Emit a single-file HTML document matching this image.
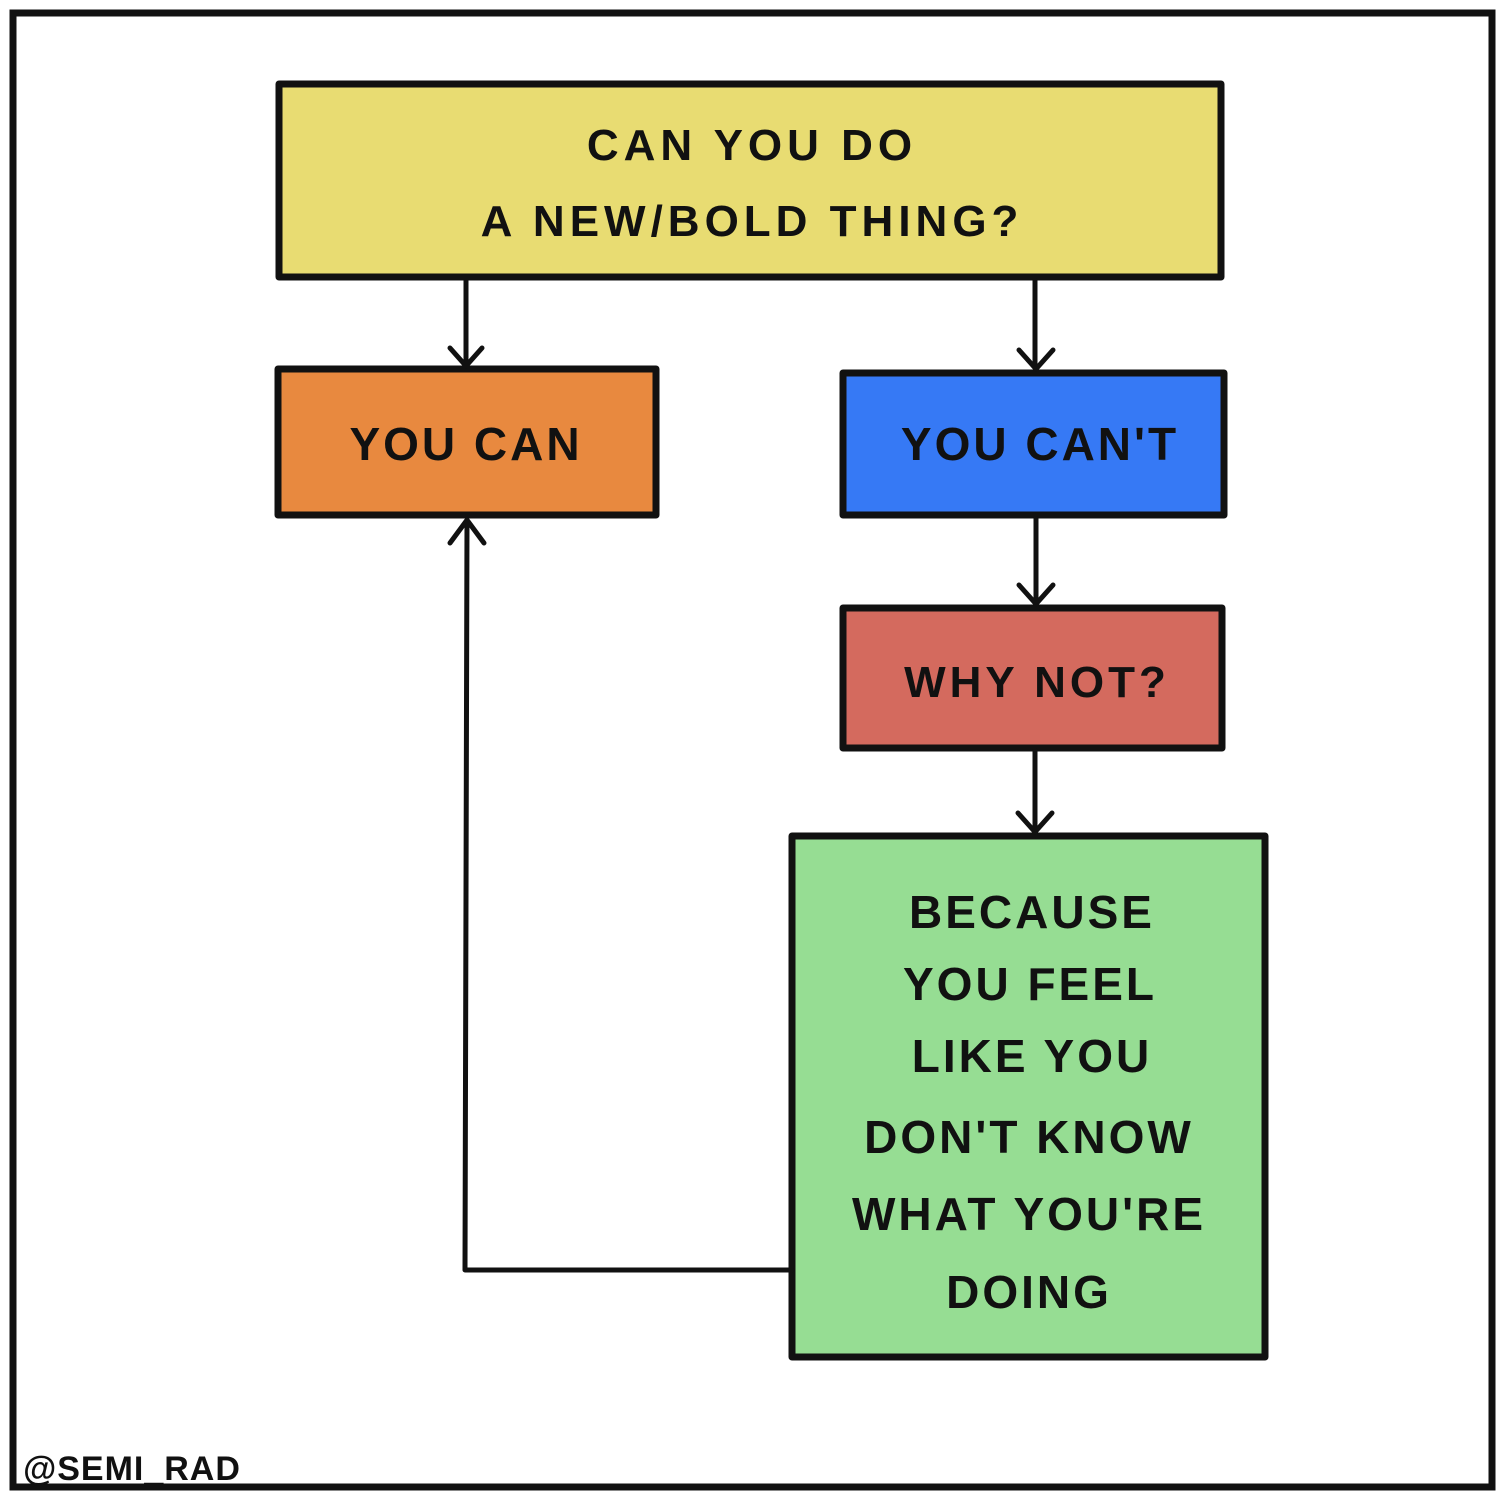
<!DOCTYPE html>
<html><head><meta charset="utf-8"><style>
html,body{margin:0;padding:0;background:#fff;}
svg{display:block}
text{font-family:"Liberation Sans",sans-serif;font-weight:bold;fill:#111;text-anchor:middle;}
</style></head><body>
<svg width="1500" height="1500" viewBox="0 0 1500 1500" xmlns="http://www.w3.org/2000/svg">
<rect x="0" y="0" width="1500" height="1500" fill="#fff"/>
<rect x="13" y="13" width="1479" height="1474" fill="none" stroke="#111" stroke-width="7"/>
<g stroke="#111" stroke-width="7" stroke-linejoin="round">
<rect x="279" y="84" width="942" height="193" fill="#e8dc72"/>
<rect x="278" y="369" width="378" height="146" fill="#e8893f"/>
<rect x="843" y="373" width="381" height="142" fill="#3679f5"/>
<rect x="843" y="608" width="379" height="140" fill="#d46a5e"/>
<rect x="792" y="836" width="473" height="521" fill="#96dd93"/>
</g>
<g stroke="#111" stroke-width="5" fill="none" stroke-linecap="round" stroke-linejoin="round">
<path d="M466 280 V364 M450 348 L466 366 L482 348"/>
<path d="M1035 280 V368 M1019 350 L1036 369 L1053 350"/>
<path d="M1036 518 V603 M1019 585 L1036 604 L1053 585"/>
<path d="M1035 750 V831 M1018 813 L1035 832 L1052 813"/>
<path d="M792 1270 H465 L467 520 M450 543 L467 520 L484 543"/>
</g>
<text x="752" y="160" font-size="44" letter-spacing="5">CAN YOU DO</text>
<text x="752" y="236" font-size="44" letter-spacing="5">A NEW/BOLD THING?</text>
<text x="466" y="460" font-size="46" letter-spacing="3">YOU CAN</text>
<text x="1040" y="460" font-size="46" letter-spacing="3">YOU CAN'T</text>
<text x="1037" y="697" font-size="44" letter-spacing="4">WHY NOT?</text>
<g font-size="46" letter-spacing="3">
<text x="1032" y="928">BECAUSE</text>
<text x="1030" y="1000">YOU FEEL</text>
<text x="1032" y="1072">LIKE YOU</text>
<text x="1029" y="1153">DON'T KNOW</text>
<text x="1029" y="1230">WHAT YOU'RE</text>
<text x="1029" y="1308">DOING</text>
</g>
<text x="132" y="1480" font-size="34" letter-spacing="1">@SEMI_RAD</text>
</svg>
</body></html>
